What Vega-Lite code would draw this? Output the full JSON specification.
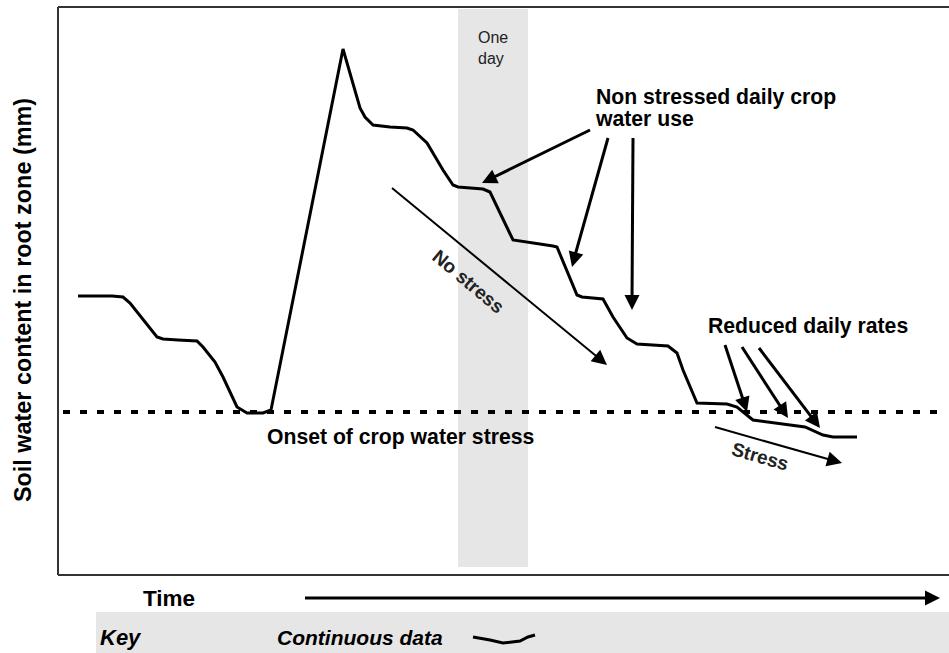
{
  "$schema": "https://vega.github.io/schema/vega-lite/v6.json",
  "width": 949,
  "height": 653,
  "autosize": "none",
  "padding": 0,
  "background": "white",
  "config": {"view": {"stroke": null}, "font": "Liberation Sans"},
  "layer": [
    {
      "data": {"values": [
        {"part": "One day band", "t": 458, "t2": 528, "w": 86, "w2": 644},
        {"part": "Key bar", "t": 96, "t2": 949, "w": 0, "w2": 41}
      ]},
      "mark": {"type": "rect", "color": "#e6e6e6"},
      "encoding": {
        "x": {"field": "t", "type": "quantitative", "scale": {"domain": [0, 949], "nice": false, "zero": false}, "axis": null},
        "x2": {"field": "t2"},
        "y": {"field": "w", "type": "quantitative", "scale": {"domain": [0, 653], "nice": false, "zero": false}, "axis": null},
        "y2": {"field": "w2"}
      }
    },
    {
      "data": {"values": [
        {"edge": "top", "t": 58, "t2": 949, "w": 646, "w2": 646},
        {"edge": "left", "t": 58, "t2": 58, "w": 646, "w2": 78},
        {"edge": "bottom", "t": 58, "t2": 949, "w": 78, "w2": 78}
      ]},
      "mark": {"type": "rule", "color": "#333333", "strokeWidth": 2},
      "encoding": {
        "x": {"field": "t", "type": "quantitative", "scale": {"domain": [0, 949], "nice": false, "zero": false}, "axis": null},
        "x2": {"field": "t2"},
        "y": {"field": "w", "type": "quantitative", "scale": {"domain": [0, 653], "nice": false, "zero": false}, "axis": null},
        "y2": {"field": "w2"}
      }
    },
    {
      "data": {"values": [
        {"label": "Onset of crop water stress", "t": 63, "t2": 946, "w": 241}
      ]},
      "mark": {"type": "rule", "color": "black", "strokeWidth": 4, "strokeDash": [7, 10]},
      "encoding": {
        "x": {"field": "t", "type": "quantitative", "scale": {"domain": [0, 949], "nice": false, "zero": false}, "axis": null},
        "x2": {"field": "t2"},
        "y": {"field": "w", "type": "quantitative", "scale": {"domain": [0, 653], "nice": false, "zero": false}, "axis": null}
      }
    },
    {
      "data": {"values": [
        {"t": 78, "w": 357}, {"t": 112, "w": 357}, {"t": 123, "w": 356}, {"t": 130, "w": 350},
        {"t": 157, "w": 316}, {"t": 163, "w": 314}, {"t": 178, "w": 313}, {"t": 197, "w": 312},
        {"t": 203, "w": 306}, {"t": 215, "w": 291}, {"t": 223, "w": 276}, {"t": 237, "w": 246},
        {"t": 247, "w": 240}, {"t": 263, "w": 240}, {"t": 271, "w": 243}, {"t": 343, "w": 604},
        {"t": 360, "w": 545}, {"t": 365, "w": 536}, {"t": 373, "w": 528}, {"t": 390, "w": 526},
        {"t": 407, "w": 525}, {"t": 413, "w": 523}, {"t": 427, "w": 510}, {"t": 443, "w": 483},
        {"t": 453, "w": 468}, {"t": 458, "w": 466}, {"t": 483, "w": 464}, {"t": 490, "w": 461},
        {"t": 513, "w": 413}, {"t": 553, "w": 407}, {"t": 557, "w": 406}, {"t": 577, "w": 358},
        {"t": 582, "w": 356}, {"t": 603, "w": 354}, {"t": 613, "w": 336}, {"t": 627, "w": 315},
        {"t": 637, "w": 309}, {"t": 668, "w": 307}, {"t": 677, "w": 300}, {"t": 683, "w": 283},
        {"t": 697, "w": 250}, {"t": 727, "w": 249}, {"t": 737, "w": 246}, {"t": 753, "w": 233},
        {"t": 805, "w": 226}, {"t": 823, "w": 218}, {"t": 833, "w": 216}, {"t": 857, "w": 216}
      ]},
      "mark": {"type": "line", "color": "black", "strokeWidth": 3},
      "encoding": {
        "x": {"field": "t", "type": "quantitative", "scale": {"domain": [0, 949], "nice": false, "zero": false}, "axis": null},
        "y": {"field": "w", "type": "quantitative", "scale": {"domain": [0, 653], "nice": false, "zero": false}, "axis": null}
      }
    },
    {
      "data": {"values": [
        {"id": "A1", "t": 590, "w": 523}, {"id": "A1", "t": 489, "w": 473.5},
        {"id": "A2", "t": 608, "w": 515}, {"id": "A2", "t": 574, "w": 394},
        {"id": "A3", "t": 633, "w": 515}, {"id": "A3", "t": 632, "w": 351},
        {"id": "R1", "t": 725, "w": 308}, {"id": "R1", "t": 744.5, "w": 249},
        {"id": "R2", "t": 742, "w": 306}, {"id": "R2", "t": 783.6, "w": 241.7},
        {"id": "R3", "t": 759, "w": 305}, {"id": "R3", "t": 815, "w": 231.4},
        {"id": "Time", "t": 305, "w": 55}, {"id": "Time", "t": 930, "w": 55}
      ]},
      "mark": {"type": "line", "color": "black", "strokeWidth": 3},
      "encoding": {
        "x": {"field": "t", "type": "quantitative", "scale": {"domain": [0, 949], "nice": false, "zero": false}, "axis": null},
        "y": {"field": "w", "type": "quantitative", "scale": {"domain": [0, 653], "nice": false, "zero": false}, "axis": null},
        "detail": {"field": "id", "type": "nominal"}
      }
    },
    {
      "data": {"values": [
        {"id": "No stress", "t": 392, "w": 465}, {"id": "No stress", "t": 601, "w": 293},
        {"id": "Stress", "t": 715, "w": 226}, {"id": "Stress", "t": 834, "w": 192.2}
      ]},
      "mark": {"type": "line", "color": "black", "strokeWidth": 2},
      "encoding": {
        "x": {"field": "t", "type": "quantitative", "scale": {"domain": [0, 949], "nice": false, "zero": false}, "axis": null},
        "y": {"field": "w", "type": "quantitative", "scale": {"domain": [0, 653], "nice": false, "zero": false}, "axis": null},
        "detail": {"field": "id", "type": "nominal"}
      }
    },
    {
      "data": {"values": [
        {"id": "A1", "t": 482, "w": 470, "heading": 244},
        {"id": "A2", "t": 572, "w": 386, "heading": 195.6},
        {"id": "A3", "t": 632, "w": 343, "heading": 180},
        {"id": "R1", "t": 747, "w": 241, "heading": 161.8},
        {"id": "R2", "t": 788, "w": 235, "heading": 147.1},
        {"id": "R3", "t": 820, "w": 225, "heading": 142.7},
        {"id": "Time", "t": 940, "w": 55, "heading": 90},
        {"id": "No stress", "t": 607, "w": 288, "heading": 129.5},
        {"id": "Stress", "t": 842, "w": 190, "heading": 105.8}
      ]},
      "mark": {"type": "point", "filled": true, "opacity": 1, "color": "black", "size": 900, "shape": "M0,0L-0.5,1L0.5,1Z", "strokeWidth": 0},
      "encoding": {
        "x": {"field": "t", "type": "quantitative", "scale": {"domain": [0, 949], "nice": false, "zero": false}, "axis": null},
        "y": {"field": "w", "type": "quantitative", "scale": {"domain": [0, 653], "nice": false, "zero": false}, "axis": null},
        "angle": {"field": "heading", "type": "quantitative", "scale": null}
      }
    },
    {
      "data": {"values": [
        {"t": 473, "w": 16}, {"t": 490, "w": 13}, {"t": 503, "w": 10},
        {"t": 520, "w": 12}, {"t": 528, "w": 16}, {"t": 535, "w": 18}
      ]},
      "mark": {"type": "line", "color": "black", "strokeWidth": 3},
      "encoding": {
        "x": {"field": "t", "type": "quantitative", "scale": {"domain": [0, 949], "nice": false, "zero": false}, "axis": null},
        "y": {"field": "w", "type": "quantitative", "scale": {"domain": [0, 653], "nice": false, "zero": false}, "axis": null}
      }
    },
    {
      "data": {"values": [
        {"text": "Non stressed daily crop", "t": 596, "w": 549},
        {"text": "water use", "t": 596, "w": 527},
        {"text": "Reduced daily rates", "t": 708, "w": 320},
        {"text": "Onset of crop water stress", "t": 267, "w": 209}
      ]},
      "mark": {"type": "text", "align": "left", "baseline": "alphabetic", "font": "Liberation Sans", "fontWeight": "bold", "fontSize": 21.2, "color": "black"},
      "encoding": {
        "x": {"field": "t", "type": "quantitative", "scale": {"domain": [0, 949], "nice": false, "zero": false}, "axis": null},
        "y": {"field": "w", "type": "quantitative", "scale": {"domain": [0, 653], "nice": false, "zero": false}, "axis": null},
        "text": {"field": "text"}
      }
    },
    {
      "data": {"values": [
        {"text": "Time", "t": 143, "w": 47}
      ]},
      "mark": {"type": "text", "align": "left", "baseline": "alphabetic", "font": "Liberation Sans", "fontWeight": "bold", "fontSize": 22.5, "color": "black"},
      "encoding": {
        "x": {"field": "t", "type": "quantitative", "scale": {"domain": [0, 949], "nice": false, "zero": false}, "axis": null},
        "y": {"field": "w", "type": "quantitative", "scale": {"domain": [0, 653], "nice": false, "zero": false}, "axis": null},
        "text": {"field": "text"}
      }
    },
    {
      "data": {"values": [
        {"text": "One", "t": 478, "w": 610},
        {"text": "day", "t": 478, "w": 589}
      ]},
      "mark": {"type": "text", "align": "left", "baseline": "alphabetic", "font": "Liberation Sans", "fontSize": 16, "color": "#222222"},
      "encoding": {
        "x": {"field": "t", "type": "quantitative", "scale": {"domain": [0, 949], "nice": false, "zero": false}, "axis": null},
        "y": {"field": "w", "type": "quantitative", "scale": {"domain": [0, 653], "nice": false, "zero": false}, "axis": null},
        "text": {"field": "text"}
      }
    },
    {
      "data": {"values": [
        {"text": "Soil water content in root zone (mm)", "t": 24, "w": 353}
      ]},
      "mark": {"type": "text", "align": "center", "baseline": "middle", "angle": 270, "font": "Liberation Sans", "fontWeight": "bold", "fontSize": 23.4, "color": "black"},
      "encoding": {
        "x": {"field": "t", "type": "quantitative", "scale": {"domain": [0, 949], "nice": false, "zero": false}, "axis": null},
        "y": {"field": "w", "type": "quantitative", "scale": {"domain": [0, 653], "nice": false, "zero": false}, "axis": null},
        "text": {"field": "text"}
      }
    },
    {
      "data": {"values": [
        {"text": "No stress", "t": 468, "w": 371}
      ]},
      "mark": {"type": "text", "align": "center", "baseline": "middle", "angle": 40, "font": "Liberation Sans", "fontWeight": "bold", "fontSize": 19, "color": "#222222"},
      "encoding": {
        "x": {"field": "t", "type": "quantitative", "scale": {"domain": [0, 949], "nice": false, "zero": false}, "axis": null},
        "y": {"field": "w", "type": "quantitative", "scale": {"domain": [0, 653], "nice": false, "zero": false}, "axis": null},
        "text": {"field": "text"}
      }
    },
    {
      "data": {"values": [
        {"text": "Stress", "t": 760, "w": 196}
      ]},
      "mark": {"type": "text", "align": "center", "baseline": "middle", "angle": 16, "font": "Liberation Sans", "fontWeight": "bold", "fontSize": 19, "color": "#222222"},
      "encoding": {
        "x": {"field": "t", "type": "quantitative", "scale": {"domain": [0, 949], "nice": false, "zero": false}, "axis": null},
        "y": {"field": "w", "type": "quantitative", "scale": {"domain": [0, 653], "nice": false, "zero": false}, "axis": null},
        "text": {"field": "text"}
      }
    },
    {
      "data": {"values": [
        {"text": "Key", "t": 100, "w": 8}
      ]},
      "mark": {"type": "text", "align": "left", "baseline": "alphabetic", "font": "Liberation Sans", "fontWeight": "bold", "fontStyle": "italic", "fontSize": 22, "color": "black"},
      "encoding": {
        "x": {"field": "t", "type": "quantitative", "scale": {"domain": [0, 949], "nice": false, "zero": false}, "axis": null},
        "y": {"field": "w", "type": "quantitative", "scale": {"domain": [0, 653], "nice": false, "zero": false}, "axis": null},
        "text": {"field": "text"}
      }
    },
    {
      "data": {"values": [
        {"text": "Continuous data", "t": 277, "w": 8}
      ]},
      "mark": {"type": "text", "align": "left", "baseline": "alphabetic", "font": "Liberation Sans", "fontWeight": "bold", "fontStyle": "italic", "fontSize": 21, "color": "black"},
      "encoding": {
        "x": {"field": "t", "type": "quantitative", "scale": {"domain": [0, 949], "nice": false, "zero": false}, "axis": null},
        "y": {"field": "w", "type": "quantitative", "scale": {"domain": [0, 653], "nice": false, "zero": false}, "axis": null},
        "text": {"field": "text"}
      }
    }
  ]
}
